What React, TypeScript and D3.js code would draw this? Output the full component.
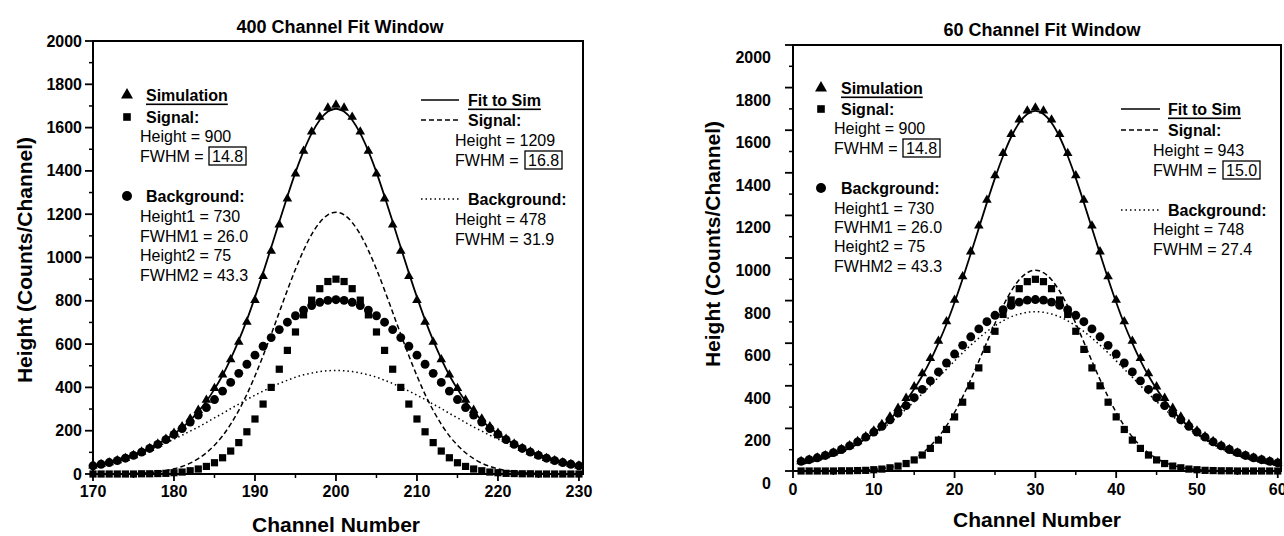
import React from "react";
import * as d3 from "d3";

const FONT = "'Liberation Sans', Arial, Helvetica, sans-serif";

// x categories (channel numbers)
const leftChannels = [170, 171, 172, 173, 174, 175, 176, 177, 178, 179, 180, 181, 182, 183, 184, 185, 186, 187, 188, 189, 190, 191, 192, 193, 194, 195, 196, 197, 198, 199, 200, 201, 202, 203, 204, 205, 206, 207, 208, 209, 210, 211, 212, 213, 214, 215, 216, 217, 218, 219, 220, 221, 222, 223, 224, 225, 226, 227, 228, 229, 230];
const rightChannels = [1, 2, 3, 4, 5, 6, 7, 8, 9, 10, 11, 12, 13, 14, 15, 16, 17, 18, 19, 20, 21, 22, 23, 24, 25, 26, 27, 28, 29, 30, 31, 32, 33, 34, 35, 36, 37, 38, 39, 40, 41, 42, 43, 44, 45, 46, 47, 48, 49, 50, 51, 52, 53, 54, 55, 56, 57, 58, 59, 60];

// 400 channel window (left panel)
const leftSim = [38, 45, 53, 62, 73, 86, 102, 119, 139, 162, 189, 219, 255, 295, 342, 396, 458, 529, 610, 702, 803, 913, 1030, 1151, 1272, 1387, 1492, 1581, 1649, 1691, 1705, 1691, 1649, 1581, 1492, 1387, 1272, 1151, 1030, 913, 803, 702, 610, 529, 458, 396, 342, 295, 255, 219, 189, 162, 139, 119, 102, 86, 73, 62, 53, 45, 38];
const leftSignal = [0, 0, 0, 0, 0, 0, 1, 1, 2, 3, 6, 9, 15, 23, 35, 52, 75, 106, 145, 195, 254, 323, 400, 484, 571, 656, 735, 803, 856, 889, 900, 889, 856, 803, 735, 656, 571, 484, 400, 323, 254, 195, 145, 106, 75, 52, 35, 23, 15, 9, 6, 3, 2, 1, 1, 0, 0, 0, 0, 0, 0];
const leftBackground = [38, 45, 53, 62, 73, 86, 101, 118, 137, 159, 183, 210, 240, 272, 307, 344, 383, 423, 465, 507, 549, 590, 630, 667, 701, 731, 757, 778, 793, 802, 805, 802, 793, 778, 757, 731, 701, 667, 630, 590, 549, 507, 465, 423, 383, 344, 307, 272, 240, 210, 183, 159, 137, 118, 101, 86, 73, 62, 53, 45, 38];
const leftFitTotal = [41, 48, 57, 67, 78, 90, 103, 120, 138, 160, 185, 214, 248, 288, 336, 392, 456, 532, 617, 712, 817, 929, 1046, 1165, 1282, 1393, 1491, 1573, 1635, 1674, 1687, 1674, 1635, 1573, 1491, 1393, 1282, 1165, 1046, 929, 817, 712, 617, 532, 456, 392, 336, 288, 248, 214, 185, 160, 138, 120, 103, 90, 78, 67, 57, 48, 41];
const leftFitSignal = [0, 0, 1, 1, 2, 3, 4, 7, 10, 16, 24, 35, 50, 71, 98, 133, 176, 230, 294, 368, 453, 546, 645, 747, 849, 946, 1033, 1107, 1162, 1197, 1209, 1197, 1162, 1107, 1033, 946, 849, 747, 645, 546, 453, 368, 294, 230, 176, 133, 98, 71, 50, 35, 24, 16, 10, 7, 4, 3, 2, 1, 1, 0, 0];
const leftFitBackground = [41, 48, 56, 66, 76, 87, 99, 113, 128, 144, 161, 179, 198, 217, 238, 259, 280, 302, 323, 344, 364, 383, 401, 418, 433, 447, 458, 466, 473, 477, 478, 477, 473, 466, 458, 447, 433, 418, 401, 383, 364, 344, 323, 302, 280, 259, 238, 217, 198, 179, 161, 144, 128, 113, 99, 87, 76, 66, 56, 48, 41];

// 60 channel window (right panel)
const rightSim = [45, 53, 62, 73, 86, 102, 119, 139, 162, 189, 219, 255, 295, 342, 396, 458, 529, 610, 702, 803, 913, 1030, 1151, 1272, 1387, 1492, 1581, 1649, 1691, 1705, 1691, 1649, 1581, 1492, 1387, 1272, 1151, 1030, 913, 803, 702, 610, 529, 458, 396, 342, 295, 255, 219, 189, 162, 139, 119, 102, 86, 73, 62, 53, 45, 38];
const rightSignal = [0, 0, 0, 0, 0, 1, 1, 2, 3, 6, 9, 15, 23, 35, 52, 75, 106, 145, 195, 254, 323, 400, 484, 571, 656, 735, 803, 856, 889, 900, 889, 856, 803, 735, 656, 571, 484, 400, 323, 254, 195, 145, 106, 75, 52, 35, 23, 15, 9, 6, 3, 2, 1, 1, 0, 0, 0, 0, 0, 0];
const rightBackground = [45, 53, 62, 73, 86, 101, 118, 137, 159, 183, 210, 240, 272, 307, 344, 383, 423, 465, 507, 549, 590, 630, 667, 701, 731, 757, 778, 793, 802, 805, 802, 793, 778, 757, 731, 701, 667, 630, 590, 549, 507, 465, 423, 383, 344, 307, 272, 240, 210, 183, 159, 137, 118, 101, 86, 73, 62, 53, 45, 38];
const rightFitTotal = [34, 41, 51, 62, 74, 90, 107, 127, 151, 178, 208, 243, 284, 331, 385, 447, 518, 600, 690, 792, 903, 1020, 1140, 1260, 1375, 1479, 1568, 1635, 1676, 1691, 1676, 1635, 1568, 1479, 1375, 1260, 1140, 1020, 903, 792, 690, 600, 518, 447, 385, 331, 284, 243, 208, 178, 151, 127, 107, 90, 74, 62, 51, 41, 34, 27];
const rightFitSignal = [0, 0, 0, 0, 0, 1, 1, 2, 4, 7, 11, 17, 27, 40, 59, 84, 117, 160, 212, 275, 348, 429, 516, 605, 693, 774, 844, 898, 931, 943, 931, 898, 844, 774, 693, 605, 516, 429, 348, 275, 212, 160, 117, 84, 59, 40, 27, 17, 11, 7, 4, 2, 1, 1, 0, 0, 0, 0, 0, 0];
const rightFitBackground = [34, 41, 51, 62, 74, 89, 106, 125, 147, 171, 197, 226, 257, 291, 326, 363, 401, 440, 478, 517, 555, 591, 624, 655, 682, 705, 724, 737, 745, 748, 745, 737, 724, 705, 682, 655, 624, 591, 555, 517, 478, 440, 401, 363, 326, 291, 257, 226, 197, 171, 147, 125, 106, 89, 74, 62, 51, 41, 34, 27];

// ticks
const yTicks = [0, 200, 400, 600, 800, 1000, 1200, 1400, 1600, 1800, 2000];
const yMinorTicks = [100, 300, 500, 700, 900, 1100, 1300, 1500, 1700, 1900];
const leftXTicks = [170, 180, 190, 200, 210, 220, 230];
const leftXMinor = [175, 185, 195, 205, 215, 225];
const rightXTicks = [0, 10, 20, 30, 40, 50, 60];
const rightXMinor = [5, 15, 25, 35, 45, 55];

// legend texts
const leftLegendSim = ["Height = 900", "14.8", "Height1 = 730", "FWHM1 = 26.0", "Height2 = 75", "FWHM2 = 43.3"];
const leftLegendFit = ["Height = 1209", "16.8", "Height = 478", "FWHM = 31.9"];
const rightLegendSim = ["Height = 900", "14.8", "Height1 = 730", "FWHM1 = 26.0", "Height2 = 75", "FWHM2 = 43.3"];
const rightLegendFit = ["Height = 943", "15.0", "Height = 748", "FWHM = 27.4"];

const triPath = d3.symbol().type(d3.symbolTriangle).size(40)() as string;
const sqPath = d3.symbol().type(d3.symbolSquare).size(52)() as string;
const circPath = d3.symbol().type(d3.symbolCircle).size(62)() as string;

function SimLegend(p: any) {
  const t = p.texts;
  const txt = (x: number, y: number, s: string, bold = false, under = false) => (
    <text x={x} y={y} fontSize={16} fontWeight={bold ? "bold" : "normal"} dominantBaseline="central"
      textDecoration={under ? "underline" : undefined}>{s}</text>
  );
  return (
    <g fontFamily={FONT}>
      <path d={d3.symbol().type(d3.symbolTriangle).size(62)() as string} transform={`translate(${p.mx},${p.ys[0]})`} />
      {txt(p.hx, p.ys[0], "Simulation", true, true)}
      <path d={d3.symbol().type(d3.symbolSquare).size(58)() as string} transform={`translate(${p.mx},${p.ys[1]})`} />
      {txt(p.hx, p.ys[1], "Signal:", true)}
      {txt(p.bx, p.ys[2], t[0])}
      {txt(p.bx, p.ys[3], "FWHM =")}
      <rect x={p.box} y={p.ys[3] - 9} width={37} height={18} fill="none" stroke="#000" strokeWidth={1.3} />
      {txt(p.box + 3, p.ys[3], t[1])}
      <path d={d3.symbol().type(d3.symbolCircle).size(78)() as string} transform={`translate(${p.mx},${p.ys[4]})`} />
      {txt(p.hx, p.ys[4], "Background:", true)}
      {txt(p.bx, p.ys[5], t[2])}
      {txt(p.bx, p.ys[6], t[3])}
      {txt(p.bx, p.ys[7], t[4])}
      {txt(p.bx, p.ys[8], t[5])}
    </g>
  );
}

function FitLegend(p: any) {
  const t = p.texts;
  const txt = (x: number, y: number, s: string, bold = false, under = false) => (
    <text x={x} y={y} fontSize={16} fontWeight={bold ? "bold" : "normal"} dominantBaseline="central"
      textDecoration={under ? "underline" : undefined}>{s}</text>
  );
  return (
    <g fontFamily={FONT}>
      <line x1={p.lx1} x2={p.lx2} y1={p.ys[0]} y2={p.ys[0]} stroke="#000" strokeWidth={1.7} />
      {txt(p.hx, p.ys[0], "Fit to Sim", true, true)}
      <line x1={p.lx1} x2={p.lx2} y1={p.ys[1]} y2={p.ys[1]} stroke="#000" strokeWidth={1.7} strokeDasharray="5,3" />
      {txt(p.hx, p.ys[1], "Signal:", true)}
      {txt(p.bx, p.ys[2], t[0])}
      {txt(p.bx, p.ys[3], "FWHM =")}
      <rect x={p.box} y={p.ys[3] - 9} width={37} height={18} fill="none" stroke="#000" strokeWidth={1.3} />
      {txt(p.box + 3, p.ys[3], t[1])}
      <line x1={p.lx1} x2={p.lx2} y1={p.ys[4]} y2={p.ys[4]} stroke="#000" strokeWidth={1.6} strokeDasharray="1.5,3" />
      {txt(p.hx, p.ys[4], "Background:", true)}
      {txt(p.bx, p.ys[5], t[2])}
      {txt(p.bx, p.ys[6], t[3])}
    </g>
  );
}

function Panel(p: any) {
  const x = d3.scaleLinear().domain([p.xMin, p.xMax]).range([p.left, p.right]);
  const y = d3.scaleLinear().domain([0, 2000]).range([p.bottom, p.top]);
  const line = d3.line<number>()
    .x((_, i) => x(p.channels[i]))
    .y(d => y(d))
    .curve(d3.curveMonotoneX);
  const marks = (vals: number[], path: string) =>
    vals.map((v, i) => (
      <path key={i} d={path} transform={`translate(${x(p.channels[i])},${y(v)})`} fill="#000" />
    ));

  return (
    <g fontFamily={FONT}>
      <text x={p.titleX} y={p.titleY} textAnchor="middle" dominantBaseline="central" fontSize={18} fontWeight="bold">{p.title}</text>

      <path d={line(p.fitBackground) as string} fill="none" stroke="#000" strokeWidth={1.5} strokeDasharray="1.5,3" />
      <path d={line(p.fitSignal) as string} fill="none" stroke="#000" strokeWidth={1.5} strokeDasharray="5,3" />
      <path d={line(p.fitTotal) as string} fill="none" stroke="#000" strokeWidth={1.8} />

      <g>{marks(p.background, circPath)}</g>
      <g>{marks(p.sim, triPath)}</g>
      <g>{marks(p.signal, sqPath)}</g>

      <rect x={p.left} y={p.top} width={p.right - p.left} height={p.bottom - p.top} fill="none" stroke="#000" strokeWidth={2} />

      {yTicks.map(t => (
        <g key={"y" + t}>
          <line x1={p.left - 8} x2={p.left} y1={y(t)} y2={y(t)} stroke="#000" strokeWidth={1.8} />
          <text x={p.yLabelX} y={y(t) + p.yLabelShift} textAnchor="end" dominantBaseline="central" fontSize={16} fontWeight="bold">{t}</text>
        </g>
      ))}
      {yMinorTicks.map(t => (
        <line key={"ym" + t} x1={p.left - 4} x2={p.left} y1={y(t)} y2={y(t)} stroke="#000" strokeWidth={1.5} />
      ))}
      {p.xTicks.map((t: number) => (
        <g key={"x" + t}>
          <line x1={x(t)} x2={x(t)} y1={p.bottom} y2={p.bottom + 7} stroke="#000" strokeWidth={1.8} />
          <text x={x(t)} y={p.xLabelY} textAnchor="middle" dominantBaseline="central" fontSize={16} fontWeight="bold">{t}</text>
        </g>
      ))}
      {p.xMinor.map((t: number) => (
        <line key={"xm" + t} x1={x(t)} x2={x(t)} y1={p.bottom} y2={p.bottom + 4} stroke="#000" strokeWidth={1.5} />
      ))}

      <text x={p.xTitleX} y={p.xTitleY} textAnchor="middle" dominantBaseline="central" fontSize={21} fontWeight="bold">Channel Number</text>
      <text transform={`translate(${p.yTitleX},${p.yTitleY}) rotate(-90)`} textAnchor="middle" dominantBaseline="central" fontSize={21} fontWeight="bold">Height (Counts/Channel)</text>
    </g>
  );
}

export default function App() {
  return (
    <div style={{ position: "absolute", left: 0, top: 0 }}>
      <svg width={1284} height={536} style={{ display: "block", background: "#fff" }}>
        <Panel
          title="400 Channel Fit Window" titleX={340} titleY={27}
          channels={leftChannels} xMin={170} xMax={230.5}
          left={93} right={583} top={41} bottom={474}
          xTicks={leftXTicks} xMinor={leftXMinor}
          sim={leftSim} signal={leftSignal} background={leftBackground}
          fitTotal={leftFitTotal} fitSignal={leftFitSignal} fitBackground={leftFitBackground}
          yLabelX={82} yLabelShift={0} xLabelY={491}
          yTitleX={24} yTitleY={260} xTitleX={336} xTitleY={524}
        />
        <SimLegend texts={leftLegendSim} mx={127} hx={146} bx={140} box={209}
          ys={[95, 117, 136, 156, 196, 216, 236, 255, 275]} />
        <FitLegend texts={leftLegendFit} lx1={421} lx2={459} hx={468} bx={455} box={525}
          ys={[100, 120, 140, 160, 199, 219, 239]} />

        <Panel
          title="60 Channel Fit Window" titleX={1042} titleY={30}
          channels={rightChannels} xMin={0} xMax={60.4}
          left={793} right={1281} top={45} bottom={471}
          xTicks={rightXTicks} xMinor={rightXMinor}
          sim={rightSim} signal={rightSignal} background={rightBackground}
          fitTotal={rightFitTotal} fitSignal={rightFitSignal} fitBackground={rightFitBackground}
          yLabelX={771} yLabelShift={12.5} xLabelY={489}
          yTitleX={712} yTitleY={244} xTitleX={1037} xTitleY={519}
        />
        <SimLegend texts={rightLegendSim} mx={821} hx={841} bx={834} box={903}
          ys={[88, 109, 128, 148, 188, 208, 227, 246, 266]} />
        <FitLegend texts={rightLegendFit} lx1={1121} lx2={1160} hx={1168} bx={1153} box={1223}
          ys={[109, 130, 150, 170, 210, 229, 249]} />
      </svg>
    </div>
  );
}
